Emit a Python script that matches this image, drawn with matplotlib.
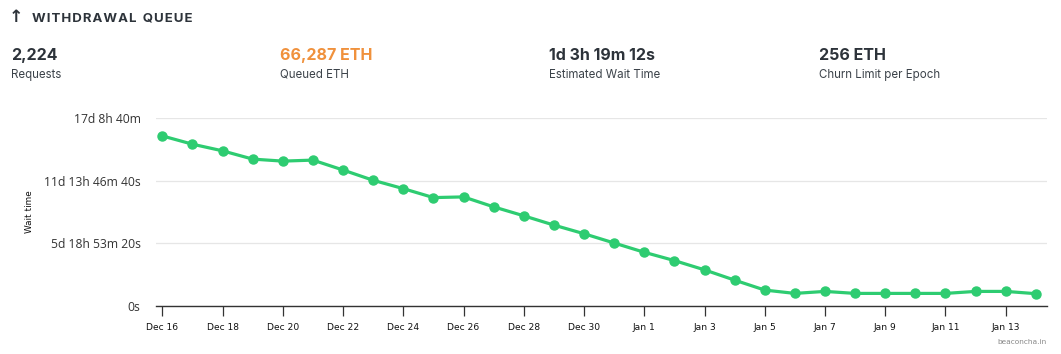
import numpy as np
import pandas as pd
import matplotlib
matplotlib.use("Agg")
import matplotlib.pyplot as plt
import matplotlib.dates as mdates
from matplotlib.ticker import FuncFormatter, MultipleLocator

# daily wait time estimates (seconds)
dates = pd.date_range("2023-12-16", "2024-01-14", freq="D")
wait_seconds = [1357000, 1291000, 1238000, 1172000, 1156000, 1164000, 1085000, 1003000,
                936500, 865000, 870400, 791000, 719600, 645500, 576700, 502600,
                428600, 362400, 288400, 206300, 127000, 100500, 116400, 100500,
                100500, 100500, 100500, 116400, 116400, 98352]

stat_values = ["2,224", "66,287 ETH", "1d 3h 19m 12s", "256 ETH"]
stat_labels = ["Requests", "Queued ETH", "Estimated Wait Time", "Churn Limit per Epoch"]
stat_colors = ["#2d333a", "#f0913c", "#2d333a", "#2d333a"]
stat_x = [11, 280, 549, 819]

W, H = 1061, 354
fig = plt.figure(figsize=(W / 100, H / 100), dpi=100)
fig.patch.set_facecolor("white")


def px(x, y):
    return x / W, 1 - y / H


def fmt_dur(v, pos=None):
    s = int(round(v))
    if s == 0:
        return "0s"
    d, s = divmod(s, 86400)
    h, s = divmod(s, 3600)
    m, s = divmod(s, 60)
    parts = []
    for val, unit in [(d, "d"), (h, "h"), (m, "m"), (s, "s")]:
        if val:
            parts.append(f"{val}{unit}")
    return " ".join(parts)


# header
fig.text(*px(9, 22), "\u2191", fontsize=12.5, fontweight="bold", color="#2d333a",
         family="DejaVu Sans", va="baseline")
title = "\u200a".join("WITHDRAWAL") + "  " + "\u200a".join("QUEUE")
fig.text(*px(32, 21), title, fontsize=9.5, fontweight="bold", color="#2d333a",
         family="Inter", va="baseline")

for x, val, lab, col in zip(stat_x, stat_values, stat_labels, stat_colors):
    fig.text(*px(x, 60), val, fontsize=11.5, fontweight="bold", color=col,
             family="Inter", va="baseline")
    fig.text(*px(x, 78), lab, fontsize=8.3, color="#3c434a", family="Inter", va="baseline")

# chart
ax = fig.add_axes([156 / W, 1 - 306 / H, (1047 - 156) / W, (306 - 118) / H])
x0 = mdates.date2num(dates[0])
ax.plot(dates, wait_seconds, color="#2ecc71", lw=2.3, marker="o", ms=6.5, mec="#2ecc71",
        solid_capstyle="round", zorder=3)

ax.set_ylim(0, 1500000)
ax.set_xlim(x0 - 0.21, x0 + 29.37)
ax.yaxis.set_major_locator(MultipleLocator(500000))
ax.yaxis.set_major_formatter(FuncFormatter(fmt_dur))
ax.grid(axis="y", color="#e6e6e6", lw=0.9)
ax.set_axisbelow(True)

ax.xaxis.set_major_locator(mdates.DayLocator(bymonthday=[16, 18, 20, 22, 24, 26, 28, 30, 1, 3, 5, 7, 9, 11, 13]))
ax.xaxis.set_major_formatter(FuncFormatter(lambda v, p: f"{mdates.num2date(v):%b} {mdates.num2date(v).day}"))

for side in ["top", "right", "left"]:
    ax.spines[side].set_visible(False)
ax.spines["bottom"].set_color("#333333")
ax.spines["bottom"].set_linewidth(1.0)

ax.tick_params(axis="y", length=0, pad=11, labelsize=8.7, labelcolor="#333333")
ax.tick_params(axis="x", length=7, width=0.9, color="#333333", pad=5, labelsize=6.6,
               labelcolor="#111111")
for lab in ax.get_yticklabels():
    lab.set_family("Open Sans")
for lab in ax.get_xticklabels():
    lab.set_family("DejaVu Sans")

fig.text(*px(30, 212), "Wait time", rotation=90, fontsize=6.4, color="#111111",
         ha="center", va="center", family="DejaVu Sans")
fig.text(*px(1047, 344), "beaconcha.in", fontsize=5.3, color="#888888", ha="right",
         va="baseline", family="DejaVu Sans")

fig.savefig("out.png", dpi=100, facecolor="white")
